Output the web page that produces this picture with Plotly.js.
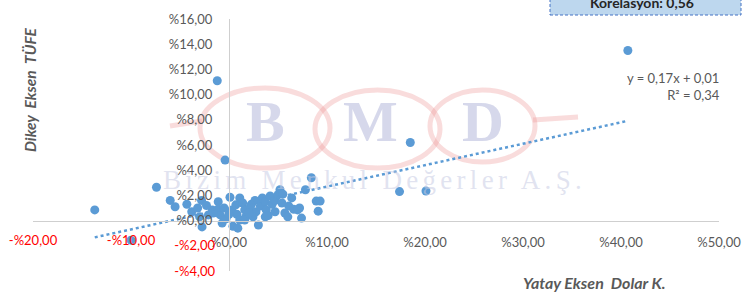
<!DOCTYPE html>
<html><head><meta charset="utf-8">
<script src="https://cdn.plot.ly/plotly-3.0.1.min.js"></script>
<style>html,body{margin:0;padding:0;background:#fff}#chart{width:742px;height:294px}</style>
</head><body><div id="chart"></div>
<script>
// Horizontal axis: Dolar K. change (%), vertical axis: TÜFE (%)
const dolarK = [40.7, -1.2, 18.5, -0.4, 8.4, 17.4, 20.1, -7.4, -13.7, -10.0, 7.8,
  -6.0, -5.5, -4.3, -3.8, -3.2, -2.8, -3.0, -2.75, -2.1, -1.7, -1.1, -1.1, -0.9, -0.7, -1.6, -0.3,
  0.1, 0.3, 0.4, 0.7, 0.8, 0.9, 1.1, 1.4, 1.6, 1.7, 1.1, 1.6, 2.1, 2.3, 2.65, 2.75, 2.45, 3.0,
  3.2, 3.4, 3.7, 3.7, 3.8, 4.0, 4.2, 4.4, 4.7, 4.7, 5.0, 5.2, 5.4, 5.5, 5.7, 6.1, 6.4, 6.6,
  7.0, 7.2, 8.9, 9.3, 9.1, 0.0, -0.5, 7.4, -2.3, 2.0, 6.0];
const tufe = [13.5, 11.1, 6.2, 4.8, 3.4, 2.3, 2.35, 2.65, 0.85, -1.55, 2.45,
  1.6, 1.1, 1.3, 0.7, 1.0, 1.6, 0.3, -0.5, 0.45, 0.85, 1.5, 0.9, 0.45, -0.2, 0.6, 0.15,
  1.85, 0.85, -0.45, 1.25, 0.5, -0.6, 1.8, 1.4, 0.85, 0.3, 0.05, 0.05, 1.0, 1.3, 1.6, 0.7, 0.3, -0.35,
  1.15, 1.8, 1.5, 0.3, 0.85, 0.4, 1.95, 1.3, 1.6, 0.7, 2.05, 2.45, 1.4, 2.1, 0.6, 1.15, 1.8, 0.9,
  0.85, 1.0, 1.55, 1.55, 0.75, 0.5, 1.0, 0.2, 1.2, 0.6, 0.3];

const trendSlope = 0.17;
const trendIntercept = 0.01;   // as a fraction
const rSquared = 0.34;
const correlation = 0.56;

const xTickValues = [-20, -10, 0, 10, 20, 30, 40, 50];
const yTickValues = [-4, -2, 0, 2, 4, 6, 8, 10, 12, 14, 16];
const xRange = [-20, 50];
const yRange = [-4, 16];

const xTitle = 'Yatay Eksen  Dolar K.';
const yTitle = 'Dikey  Eksen  TÜFE';
const watermarkLetters = ['B', 'M', 'D'];
const watermarkText = 'Bizim Menkul Değerler A.Ş.';

function trFmt(v) { return v.toFixed(2).replace('.', ','); }
function pct(v) { const s = '%' + Math.abs(v).toFixed(2).replace('.', ','); return v < 0 ? '-' + s : s; }

const GREY = '#595959', RED = '#FF0000', BLUE = '#5B9BD5', FONT = 'Lato, "Open Sans", sans-serif';

// page geometry (plot area)
const W = 742, H = 294, L = 33, R = 23, T = 19, B = 23;
const PW = W - L - R, PH = H - T - B;
const px = v => (v - L) / PW;
const py = v => (H - B - v) / PH;

const xMin = Math.min(...dolarK), xMax = Math.max(...dolarK);
const trendX = [xMin, xMax];
const trendY = trendX.map(x => trendSlope * x + trendIntercept * 100);

const posX = xTickValues.filter(v => v >= 0), negX = xTickValues.filter(v => v < 0);
const posY = yTickValues.filter(v => v >= 0), negY = yTickValues.filter(v => v < 0);

const xZeroFrac = (0 - yRange[0]) / (yRange[1] - yRange[0]);
const yZeroFrac = (0 - xRange[0]) / (xRange[1] - xRange[0]);

const tickFont = c => ({family: FONT, size: 13, color: c});

const data = [
  {x: [null], y: [null], xaxis: 'x2', yaxis: 'y2', mode: 'markers', showlegend: false, hoverinfo: 'skip'},
  {x: dolarK, y: tufe, type: 'scatter', mode: 'markers',
   marker: {color: BLUE, size: 9}, showlegend: false},
  {x: trendX, y: trendY, type: 'scatter', mode: 'lines',
   line: {color: BLUE, width: 2.5, dash: 'dot'}, showlegend: false, hoverinfo: 'skip'}
];

const axBase = {showgrid: false, zeroline: false, ticks: '', fixedrange: true, anchor: 'free'};
const ringLine = {color: 'rgba(238,150,150,0.33)', width: 5};
const ann = o => Object.assign({xref: 'paper', yref: 'paper', xanchor: 'center', yanchor: 'middle', showarrow: false}, o);

const layout = {
  width: W, height: H,
  margin: {l: L, r: R, t: T, b: B, pad: 0},
  paper_bgcolor: '#ffffff', plot_bgcolor: 'rgba(0,0,0,0)',
  showlegend: false,
  xaxis: Object.assign({}, axBase, {range: xRange, position: xZeroFrac, showline: true, linecolor: '#CFCFCF', linewidth: 1,
    tickmode: 'array', tickvals: posX, ticktext: posX.map(pct), tickfont: tickFont(GREY), ticklabelstandoff: 10}),
  xaxis2: Object.assign({}, axBase, {range: xRange, overlaying: 'x', matches: 'x', position: xZeroFrac, showline: false,
    tickmode: 'array', tickvals: negX, ticktext: negX.map(pct), tickfont: tickFont(RED), ticklabelstandoff: 10}),
  yaxis: Object.assign({}, axBase, {range: yRange, position: yZeroFrac, showline: true, linecolor: '#CFCFCF', linewidth: 1,
    tickmode: 'array', tickvals: posY, ticktext: posY.map(pct), tickfont: tickFont(GREY), ticklabelstandoff: 14}),
  yaxis2: Object.assign({}, axBase, {range: yRange, overlaying: 'y', matches: 'y', position: yZeroFrac, showline: false,
    tickmode: 'array', tickvals: negY, ticktext: negY.map(pct), tickfont: tickFont(RED), ticklabelstandoff: 14}),
  shapes: [
    // watermark logo rings
    {type: 'circle', xref: 'paper', yref: 'paper', layer: 'below', x0: px(200), x1: px(330), y0: py(168), y1: py(88), line: ringLine},
    {type: 'circle', xref: 'paper', yref: 'paper', layer: 'below', x0: px(315), x1: px(440), y0: py(168), y1: py(90), line: ringLine},
    {type: 'circle', xref: 'paper', yref: 'paper', layer: 'below', x0: px(430), x1: px(535), y0: py(162), y1: py(90), line: ringLine},
    {type: 'line', xref: 'paper', yref: 'paper', layer: 'below', x0: px(170), x1: px(202), y0: py(126), y1: py(121), line: ringLine},
    {type: 'line', xref: 'paper', yref: 'paper', layer: 'below', x0: px(533), x1: px(578), y0: py(120), y1: py(117), line: ringLine},
    // correlation box
    {type: 'rect', xref: 'paper', yref: 'paper', x0: px(550), x1: px(741), y0: py(15), y1: py(-12),
     fillcolor: '#BDD7EE', line: {color: '#4472C4', width: 1, dash: '3px,2px'}}
  ],
  annotations: [
    ...watermarkLetters.map((ch, i) => ann({x: px([265, 370, 483][i]), y: py(121),
      text: '<b>' + ch + '</b>', font: {family: '"Liberation Serif", serif', size: 58, color: 'rgba(196,200,226,0.7)'}})),
    ann({x: px(374), y: py(180),
     text: '<span style="letter-spacing:4.3px">' + watermarkText + '</span>',
     font: {family: '"Liberation Serif", serif', size: 27, color: 'rgba(200,204,228,0.55)'}}),
    ann({x: px(642), y: py(2),
     text: '<b>Korelasyon: ' + trFmt(correlation) + '</b>', font: {family: FONT, size: 14, color: '#262626'}}),
    ann({x: px(722), y: py(86), xanchor: 'right', align: 'right',
     text: 'y = ' + trFmt(trendSlope) + 'x + ' + trFmt(trendIntercept) + '<br>R² = ' + trFmt(rSquared),
     font: {family: FONT, size: 13, color: GREY}}),
    ann({x: px(30), y: py(90), textangle: -90,
     text: '<b><i>' + yTitle + '</i></b>', font: {family: FONT, size: 15.5, color: GREY}}),
    ann({x: px(594), y: py(282),
     text: '<b><i>' + xTitle + '</i></b>', font: {family: FONT, size: 16, color: GREY}})
  ]
};

Plotly.newPlot('chart', data, layout, {displayModeBar: false, staticPlot: true});
</script>
</body></html>
